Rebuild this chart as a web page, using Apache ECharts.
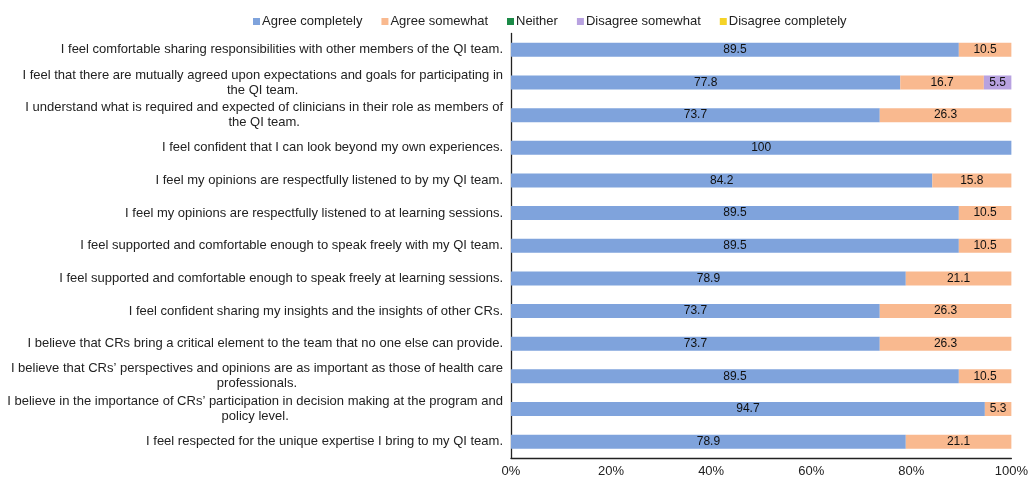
<!DOCTYPE html>
<html lang="en">
<head>
  <meta charset="UTF-8">
  <title>QI team survey</title>
  <script src="https://cdn.jsdelivr.net/npm/echarts@6/dist/echarts.min.js"></script>
  <style>
    html, body { margin: 0; padding: 0; background: #fff; }
    #chart { width: 1031px; height: 478px; }
  </style>
</head>
<body>
  <div id="chart"></div>
  <script>
    // statements (top to bottom); second line of wrapped ones is centred like the original
    const statements = [
      ['I feel comfortable sharing responsibilities with other members of the QI team.'],
      ['I feel that there are mutually agreed upon expectations and goals for participating in', 'the QI team.'],
      ['I understand what is required and expected of clinicians in their role as members of', 'the QI team.'],
      ['I feel confident that I can look beyond my own experiences.'],
      ['I feel my opinions are respectfully listened to by my QI team.'],
      ['I feel my opinions are respectfully listened to at learning sessions.'],
      ['I feel supported and comfortable enough to speak freely with my QI team.'],
      ['I feel supported and comfortable enough to speak freely at learning sessions.'],
      ['I feel confident sharing my insights and the insights of other CRs.'],
      ['I believe that CRs bring a critical element to the team that no one else can provide.'],
      ['I believe that CRs\u2019 perspectives and opinions are as important as those of health care', 'professionals.'],
      ['I believe in the importance of CRs\u2019 participation in decision making at the program and', 'policy level.'],
      ['I feel respected for the unique expertise I bring to my QI team.']
    ];

    const agreeCompletely    = [89.5, 77.8, 73.7, 100, 84.2, 89.5, 89.5, 78.9, 73.7, 73.7, 89.5, 94.7, 78.9];
    const agreeSomewhat      = [10.5, 16.7, 26.3, 0, 15.8, 10.5, 10.5, 21.1, 26.3, 26.3, 10.5, 5.3, 21.1];
    const neither            = [0, 0, 0, 0, 0, 0, 0, 0, 0, 0, 0, 0, 0];
    const disagreeSomewhat   = [0, 5.5, 0, 0, 0, 0, 0, 0, 0, 0, 0, 0, 0];
    const disagreeCompletely = [0, 0, 0, 0, 0, 0, 0, 0, 0, 0, 0, 0, 0];

    const seriesNames = ['Agree completely', 'Agree somewhat', 'Neither', 'Disagree somewhat', 'Disagree completely'];
    const seriesData = [agreeCompletely, agreeSomewhat, neither, disagreeSomewhat, disagreeCompletely];
    const colors = ['#7fa3dc', '#f9b98f', '#1b8a47', '#b8a2e0', '#f5d327'];

    const categories = statements.map(function (s) { return s.join('|'); });
    const font = '"Liberation Sans", Arial, Helvetica, sans-serif';

    const chart = echarts.init(document.getElementById('chart'));

    const option = {
      animation: false,
      textStyle: { fontFamily: font },
      color: colors,
      legend: {
        top: 10,
        left: 248,
        itemWidth: 7,
        itemHeight: 7,
        itemGap: 19,
        icon: 'rect',
        textStyle: { fontSize: 13, color: '#222', fontFamily: font, padding: [0, 0, 0, -3] },
        data: seriesNames
      },
      grid: { left: 511, right: 17, top: 33.5, bottom: 17 },
      xAxis: {
        type: 'value',
        min: 0,
        max: 100,
        interval: 20,
        axisLine: { show: true, lineStyle: { color: '#222', width: 1.3 } },
        axisTick: { show: false },
        splitLine: { show: false },
        axisLabel: {
          fontSize: 13,
          color: '#222',
          margin: 7,
          formatter: '{value}%'
        }
      },
      yAxis: {
        type: 'category',
        inverse: true,
        data: categories,
        axisLine: { show: true, lineStyle: { color: '#222', width: 1.3 } },
        axisTick: { show: false },
        axisLabel: {
          margin: 8,
          fontSize: 13,
          lineHeight: 15,
          color: '#222',
          formatter: function (v) {
            const parts = v.split('|');
            if (parts.length === 1) return parts[0];
            return parts[0] + '\n{c|' + parts[1] + '}';
          },
          rich: {
            c: { align: 'center', fontSize: 13, lineHeight: 15, color: '#222', fontFamily: font }
          }
        }
      },
      series: seriesNames.map(function (name, i) {
        return {
          name: name,
          type: 'bar',
          stack: 'total',
          barWidth: 14,
          data: seriesData[i],
          label: {
            show: true,
            position: 'inside',
            fontSize: 12,
            color: '#111',
            formatter: function (p) { return p.value > 0 ? String(p.value) : ''; }
          }
        };
      })
    };

    chart.setOption(option);
  </script>
</body>
</html>
